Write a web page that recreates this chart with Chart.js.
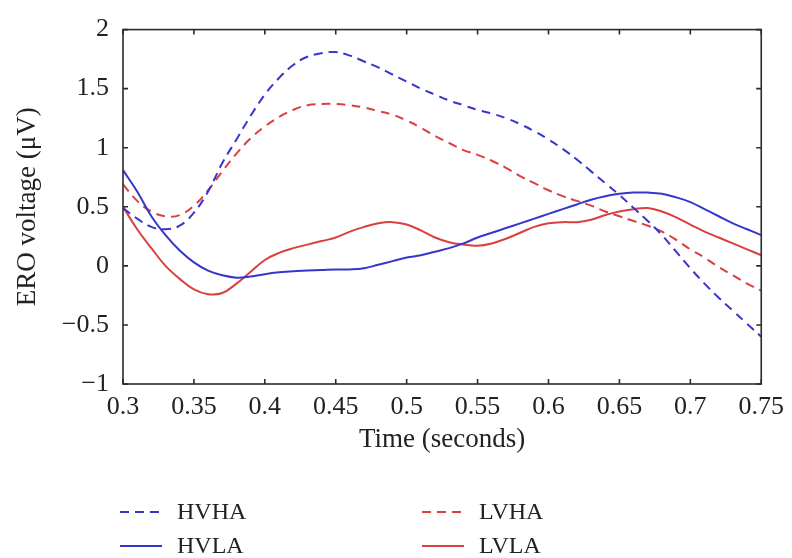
<!DOCTYPE html>
<html><head><meta charset="utf-8">
<script src="https://cdn.jsdelivr.net/npm/chart.js@4"></script>
<style>html,body{margin:0;padding:0;background:#fff}#wrap{width:792px;height:558px;position:relative}</style>
</head><body><div id="wrap"><canvas id="c"></canvas></div>
<script>
const time = [0.30,0.31,0.32,0.33,0.34,0.35,0.36,0.37,0.38,0.39,0.40,0.41,0.42,0.43,0.44,0.45,0.46,0.47,0.48,0.49,0.50,0.51,0.52,0.53,0.54,0.55,0.56,0.57,0.58,0.59,0.60,0.61,0.62,0.63,0.64,0.65,0.66,0.67,0.68,0.69,0.70,0.71,0.72,0.73,0.74,0.75];
const hvha = [0.49,0.40,0.33,0.31,0.34,0.45,0.63,0.87,1.07,1.27,1.45,1.59,1.70,1.77,1.80,1.81,1.78,1.73,1.68,1.62,1.56,1.50,1.45,1.40,1.36,1.32,1.29,1.25,1.20,1.14,1.07,0.99,0.90,0.80,0.70,0.60,0.49,0.38,0.26,0.12,-0.02,-0.15,-0.27,-0.38,-0.49,-0.60];
const lvha = [0.69,0.55,0.46,0.42,0.43,0.51,0.64,0.80,0.95,1.08,1.18,1.26,1.32,1.36,1.37,1.37,1.36,1.34,1.31,1.28,1.23,1.17,1.10,1.04,0.98,0.94,0.89,0.83,0.76,0.70,0.64,0.59,0.55,0.51,0.46,0.42,0.38,0.34,0.29,0.22,0.14,0.07,-0.01,-0.08,-0.15,-0.21];
const hvla = [0.81,0.63,0.42,0.26,0.13,0.03,-0.04,-0.08,-0.10,-0.09,-0.07,-0.055,-0.045,-0.04,-0.035,-0.03,-0.03,-0.02,0.01,0.04,0.07,0.09,0.12,0.15,0.19,0.24,0.28,0.32,0.36,0.40,0.44,0.48,0.52,0.56,0.59,0.61,0.62,0.62,0.61,0.58,0.54,0.48,0.42,0.36,0.31,0.26];
const lvla = [0.50,0.31,0.15,0.00,-0.11,-0.20,-0.24,-0.23,-0.15,-0.05,0.05,0.11,0.15,0.18,0.21,0.24,0.29,0.33,0.36,0.37,0.35,0.30,0.24,0.20,0.18,0.17,0.19,0.23,0.28,0.33,0.36,0.37,0.37,0.39,0.43,0.46,0.48,0.49,0.46,0.41,0.35,0.29,0.24,0.19,0.14,0.09];
const xTickValues = [0.3,0.35,0.4,0.45,0.5,0.55,0.6,0.65,0.7,0.75];
const xTickLabels = ['0.3','0.35','0.4','0.45','0.5','0.55','0.6','0.65','0.7','0.75'];
const yTickValues = [-1,-0.5,0,0.5,1,1.5,2];
const yTickLabels = ['\u22121','\u22120.5','0','0.5','1','1.5','2'];
const seriesNames = ['HVHA','HVLA','LVHA','LVLA'];

const BLUE = '#3636cc', RED = '#d9403f', DASH = [9,6];
const FONT = '"Liberation Serif", "DejaVu Serif", serif';
const toPts = arr => arr.map((v,i)=>({x:time[i], y:v}));

const framePlugin = {
  id:'frame',
  afterDraw(chart){
    const {ctx, chartArea:a, scales:{x,y}} = chart;
    ctx.save();
    ctx.strokeStyle = '#2b2b2b'; ctx.lineWidth = 1.6;
    ctx.strokeRect(a.left, a.top, a.right-a.left, a.bottom-a.top);
    ctx.beginPath();
    xTickValues.forEach(v=>{
      const px = x.getPixelForValue(v);
      ctx.moveTo(px,a.bottom); ctx.lineTo(px,a.bottom-5);
      ctx.moveTo(px,a.top); ctx.lineTo(px,a.top+5);
    });
    yTickValues.forEach(v=>{
      const py = y.getPixelForValue(v);
      ctx.moveTo(a.left,py); ctx.lineTo(a.left+5,py);
      ctx.moveTo(a.right,py); ctx.lineTo(a.right-5,py);
    });
    ctx.stroke();
    // legend (2 x 2)
    const cols = [120, 422], rows = [512, 546];
    const order = [[0,0,0],[1,0,1],[2,1,0],[3,1,1]];
    ctx.font = '24px ' + FONT;
    ctx.textBaseline = 'middle';
    ctx.fillStyle = '#222';
    order.forEach(([di,c,r])=>{
      const ds = chart.data.datasets[di];
      const lx = cols[c], ly = rows[r];
      ctx.beginPath();
      ctx.strokeStyle = ds.borderColor; ctx.lineWidth = 2;
      ctx.setLineDash(ds.borderDash || []);
      ctx.moveTo(lx, ly); ctx.lineTo(lx+42, ly);
      ctx.stroke();
      ctx.setLineDash([]);
      ctx.fillText(ds.label, lx+57, ly+1);
    });
    ctx.restore();
  }
};

new Chart(document.getElementById('c'), {
  type:'line',
  data:{datasets:[
    {label:seriesNames[0], data:toPts(hvha), borderColor:BLUE, borderDash:DASH, borderWidth:2, pointRadius:0, tension:0.4, fill:false},
    {label:seriesNames[1], data:toPts(hvla), borderColor:BLUE, borderWidth:2, pointRadius:0, tension:0.4, fill:false},
    {label:seriesNames[2], data:toPts(lvha), borderColor:RED, borderDash:DASH, borderWidth:2, pointRadius:0, tension:0.4, fill:false},
    {label:seriesNames[3], data:toPts(lvla), borderColor:RED, borderWidth:2, pointRadius:0, tension:0.4, fill:false}
  ]},
  options:{
    responsive:true, maintainAspectRatio:false, animation:false,
    layout:{padding:{left:0, right:29, top:21, bottom:102}},
    plugins:{legend:{display:false}, tooltip:{enabled:false}},
    scales:{
      x:{type:'linear', min:0.3, max:0.75,
        afterBuildTicks:s=>{s.ticks = xTickValues.map(v=>({value:v}));},
        afterFit:s=>{s.height = 72;},
        grid:{display:false, drawTicks:false}, border:{display:false},
        ticks:{padding:8, color:'#222', font:{family:FONT, size:26}, maxRotation:0, autoSkip:false,
          callback:(v,i)=>xTickLabels[i]},
        title:{display:true, text:'Time (seconds)', color:'#222', font:{family:FONT, size:27}, padding:{top:0,bottom:0}}
      },
      y:{type:'linear', min:-1, max:2,
        afterBuildTicks:s=>{s.ticks = yTickValues.map(v=>({value:v}));},
        afterFit:s=>{s.width = 123;},
        grid:{display:false, drawTicks:false}, border:{display:false},
        ticks:{padding:14, color:'#222', font:{family:FONT, size:26}, autoSkip:false,
          callback:(v,i)=>yTickLabels[i]},
        title:{display:true, text:'ERO voltage (\u03bcV)', color:'#222', font:{family:FONT, size:27}, padding:{top:12,bottom:0}}
      }
    }
  },
  plugins:[framePlugin]
});
</script></body></html>
